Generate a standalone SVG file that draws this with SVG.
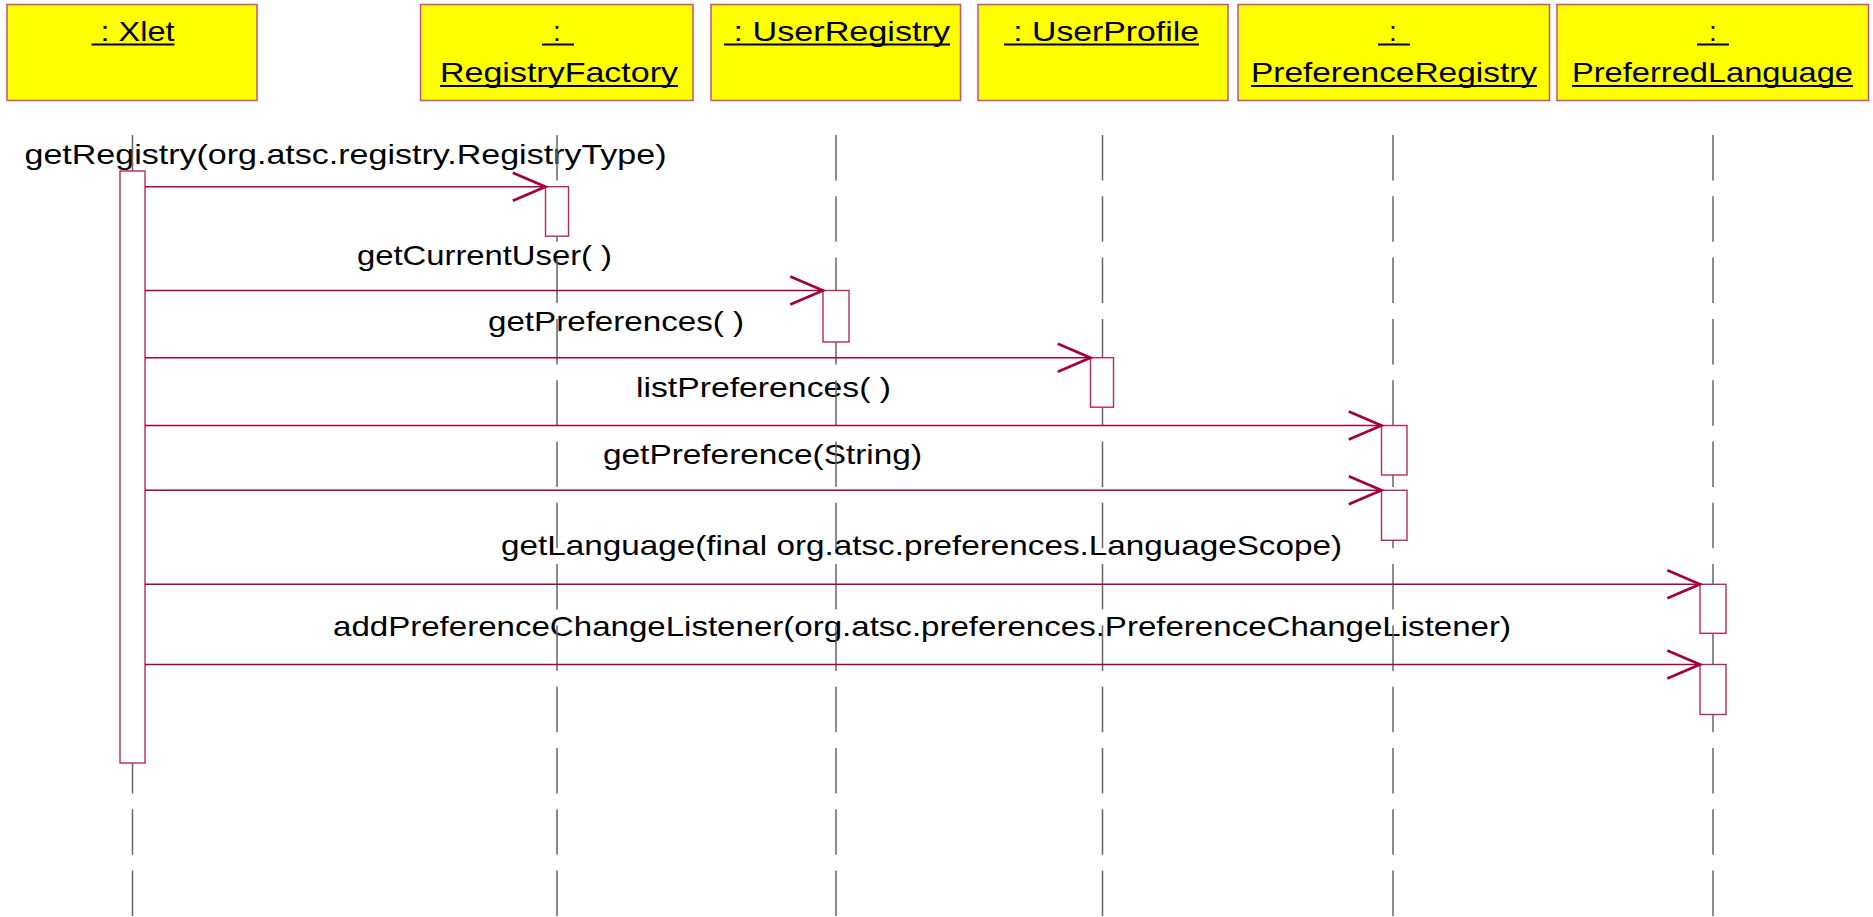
<svg xmlns="http://www.w3.org/2000/svg" width="1873" height="917" viewBox="0 0 1873 917">
<style>
  .box { fill: #FFFF00; stroke: #C8507A; stroke-width: 1.5; }
  .hdr { font-family: "Liberation Sans", Arial, sans-serif; font-size: 28px; fill: #000; }
  .ul { stroke: #000; stroke-width: 2; }
  .life { stroke: #666; stroke-width: 1.5; stroke-dasharray: 45.5 15.8; fill: none; }
  .act { fill: #FFFFFF; stroke: #B8285A; stroke-width: 1.4; }
  .msg { stroke: #A8003C; stroke-width: 1.4; fill: none; marker-end: url(#open); }
  .lbl { font-family: "Liberation Sans", Arial, sans-serif; font-size: 28.5px; fill: #000; }
</style>
<defs>
  <marker id="open" markerUnits="userSpaceOnUse" markerWidth="44" markerHeight="36" viewBox="-38 -18 44 36" refX="0" refY="0" orient="auto" overflow="visible">
    <path d="M-32.7,-14 L0,0 L-32.7,14" fill="none" stroke="#A0003C" stroke-width="2.7"/>
  </marker>
</defs>
<rect width="1873" height="917" fill="#FFFFFF"/>

<g id="message-labels">
  <text class="lbl" x="24.5" y="164" textLength="642" lengthAdjust="spacingAndGlyphs">getRegistry(org.atsc.registry.RegistryType)</text>
  <text class="lbl" x="357" y="264.5" textLength="255" lengthAdjust="spacingAndGlyphs">getCurrentUser( )</text>
  <text class="lbl" x="488" y="331" textLength="256" lengthAdjust="spacingAndGlyphs">getPreferences( )</text>
  <text class="lbl" x="636" y="397" textLength="255" lengthAdjust="spacingAndGlyphs">listPreferences( )</text>
  <text class="lbl" x="603" y="464" textLength="319" lengthAdjust="spacingAndGlyphs">getPreference(String)</text>
  <text class="lbl" x="501" y="555" textLength="841" lengthAdjust="spacingAndGlyphs">getLanguage(final org.atsc.preferences.LanguageScope)</text>
  <text class="lbl" x="333" y="636" textLength="1178" lengthAdjust="spacingAndGlyphs">addPreferenceChangeListener(org.atsc.preferences.PreferenceChangeListener)</text>
</g>

<g id="xlet">
  <rect class="box" x="7" y="4.5" width="250" height="96"/>
  <text class="hdr" x="91.5" y="41" textLength="83" lengthAdjust="spacingAndGlyphs" xml:space="preserve"> : Xlet</text>
  <line class="ul" x1="91.5" y1="44.5" x2="174.5" y2="44.5"/>
  <line class="life" x1="132.5" y1="135" x2="132.5" y2="917"/>
  <rect class="act" x="120" y="171" width="25" height="592"/>
</g>

<g id="registry-factory">
  <rect class="box" x="420.5" y="4.5" width="272.5" height="96"/>
  <text class="hdr" x="557" y="41" text-anchor="middle">:</text>
  <line class="ul" x1="542" y1="44.5" x2="574" y2="44.5"/>
  <text class="hdr" x="440" y="82" textLength="238" lengthAdjust="spacingAndGlyphs">RegistryFactory</text>
  <line class="ul" x1="440" y1="86" x2="678" y2="86"/>
  <line class="life" x1="557" y1="135" x2="557" y2="917"/>
  <rect class="act" x="545.5" y="186.7" width="23" height="49.5"/>
</g>

<g id="user-registry">
  <rect class="box" x="711" y="4.5" width="249.5" height="96"/>
  <text class="hdr" x="724" y="41" textLength="226" lengthAdjust="spacingAndGlyphs" xml:space="preserve"> : UserRegistry</text>
  <line class="ul" x1="724" y1="44.5" x2="950" y2="44.5"/>
  <line class="life" x1="836" y1="135" x2="836" y2="917"/>
  <rect class="act" x="823" y="290.5" width="26" height="51.5"/>
</g>

<g id="user-profile">
  <rect class="box" x="978" y="4.5" width="250" height="96"/>
  <text class="hdr" x="1004" y="41" textLength="195" lengthAdjust="spacingAndGlyphs" xml:space="preserve"> : UserProfile</text>
  <line class="ul" x1="1004" y1="44.5" x2="1199" y2="44.5"/>
  <line class="life" x1="1102.5" y1="135" x2="1102.5" y2="917"/>
  <rect class="act" x="1090.5" y="357.7" width="23" height="49.5"/>
</g>

<g id="preference-registry">
  <rect class="box" x="1238" y="4.5" width="311.5" height="96"/>
  <text class="hdr" x="1393" y="41" text-anchor="middle">:</text>
  <line class="ul" x1="1378" y1="44.5" x2="1410" y2="44.5"/>
  <text class="hdr" x="1251" y="82" textLength="286" lengthAdjust="spacingAndGlyphs">PreferenceRegistry</text>
  <line class="ul" x1="1251" y1="86" x2="1537" y2="86"/>
  <line class="life" x1="1393" y1="135" x2="1393" y2="917"/>
  <rect class="act" x="1381.5" y="425.5" width="25.5" height="49.5"/>
  <rect class="act" x="1381.5" y="490.3" width="25.5" height="50"/>
</g>

<g id="preferred-language">
  <rect class="box" x="1557" y="4.5" width="311.5" height="96"/>
  <text class="hdr" x="1713" y="41" text-anchor="middle">:</text>
  <line class="ul" x1="1697" y1="44.5" x2="1729" y2="44.5"/>
  <text class="hdr" x="1572" y="82" textLength="281" lengthAdjust="spacingAndGlyphs">PreferredLanguage</text>
  <line class="ul" x1="1572" y1="86" x2="1853" y2="86"/>
  <line class="life" x1="1713" y1="135" x2="1713" y2="917"/>
  <rect class="act" x="1700" y="584.3" width="26" height="49"/>
  <rect class="act" x="1700" y="664.5" width="26" height="50"/>
</g>

<g id="connectors">
  <line class="msg" x1="145" y1="186.7" x2="545.5" y2="186.7"/>
  <line class="msg" x1="145" y1="290.5" x2="823" y2="290.5"/>
  <line class="msg" x1="145" y1="357.7" x2="1090.5" y2="357.7"/>
  <line class="msg" x1="145" y1="425.5" x2="1381.5" y2="425.5"/>
  <line class="msg" x1="145" y1="490.3" x2="1381.5" y2="490.3"/>
  <line class="msg" x1="145" y1="584.3" x2="1700" y2="584.3"/>
  <line class="msg" x1="145" y1="664.5" x2="1700" y2="664.5"/>
</g>
</svg>
